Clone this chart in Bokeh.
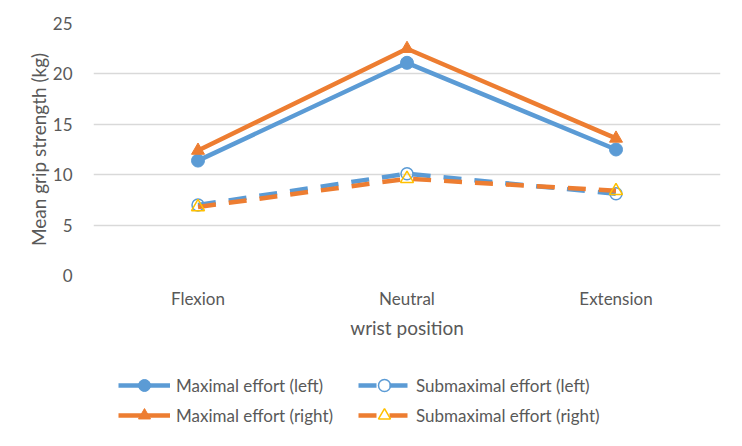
from bokeh.plotting import figure
from bokeh.layouts import column
from bokeh.models import Legend, LegendItem, FactorRange, Range1d, FixedTicker
from bokeh.embed import file_html
from bokeh.resources import INLINE

positions = ["Flexion", "Neutral", "Extension"]
y_ticks = [0, 5, 10, 15, 20, 25]
max_left = [11.4, 21.1, 12.5]
max_right = [12.4, 22.5, 13.6]
sub_left = [7.0, 10.1, 8.1]
sub_right = [6.8, 9.6, 8.4]
labels = ["Maximal effort (left)", "Submaximal effort (left)",
          "Maximal effort (right)", "Submaximal effort (right)"]

BLUE = "#5B9BD5"
ORANGE = "#ED7D31"
GOLD = "#FFC000"
TEXT = "#595959"
GRID = "#D9D9D9"
FONT = "Lato"

p = figure(width=726, height=350,
           x_range=FactorRange(*positions, range_padding=0),
           y_range=Range1d(0, 25),
           output_backend="svg", toolbar_location=None,
           min_border_left=93, min_border_right=6,
           min_border_top=23, min_border_bottom=75)
p.outline_line_color = None
p.xgrid.grid_line_color = None
p.ygrid.grid_line_color = GRID
p.ygrid.grid_line_width = 1.5
p.yaxis.ticker = FixedTicker(ticks=y_ticks)

for ax in (p.xaxis[0], p.yaxis[0]):
    ax.axis_line_color = None
    ax.major_tick_line_color = None
    ax.minor_tick_line_color = None
    ax.major_label_text_font = FONT
    ax.major_label_text_font_size = "17px"
    ax.major_label_text_color = TEXT
    ax.axis_label_text_font = FONT
    ax.axis_label_text_font_size = "19px"
    ax.axis_label_text_color = TEXT
    ax.axis_label_text_font_style = "normal"

p.xaxis.axis_label = "wrist position"
p.yaxis.axis_label = "Mean grip strength (kg)"
p.xaxis.major_label_standoff = 6
p.xaxis.axis_label_standoff = 4
p.yaxis.major_label_standoff = 15
p.yaxis.axis_label_standoff = 0

LW = 4.5
DASH = "18 13"

STYLES = [
    dict(line=dict(line_color=BLUE, line_width=LW),
         mark=dict(marker="circle", size=13, fill_color=BLUE, line_color=BLUE)),
    dict(line=dict(line_color=BLUE, line_width=LW, line_dash=DASH),
         mark=dict(marker="circle", size=12, fill_color="white", fill_alpha=0.0,
                   line_color=BLUE, line_width=1.5)),
    dict(line=dict(line_color=ORANGE, line_width=LW),
         mark=dict(marker="triangle", size=13, fill_color=ORANGE, line_color=ORANGE)),
    dict(line=dict(line_color=ORANGE, line_width=LW, line_dash=DASH),
         mark=dict(marker="triangle", size=13, fill_color="white", fill_alpha=0.0,
                   line_color=GOLD, line_width=1.5)),
]
series = [max_left, sub_left, max_right, sub_right]

for vals, st in zip(series, STYLES):
    p.line(positions, vals, **st["line"])
    p.scatter(positions, vals, **st["mark"])

# legend strip below the chart (series drawn out of view, only legend shows)
q = figure(width=726, height=80,
           x_range=FactorRange(*positions, range_padding=0),
           y_range=Range1d(-200, -100),
           x_axis_type=None, y_axis_type=None,
           output_backend="svg", toolbar_location=None,
           min_border_left=0, min_border_right=0, min_border_top=0, min_border_bottom=0)
q.grid.visible = False
q.outline_line_color = None

items = []
for lab, vals, st in zip(labels, series, STYLES):
    lr = q.line(positions, vals, **st["line"])
    mr = q.scatter(positions, vals, **st["mark"])
    items.append(LegendItem(label=lab, renderers=[lr, mr]))

legend = Legend(items=items, orientation="horizontal", ncols=2,
                location=(25, 0),
                glyph_width=52, glyph_height=30, label_height=20,
                label_standoff=6, spacing=0, padding=0, margin=0,
                label_width=182,
                label_text_font=FONT, label_text_font_size="17px",
                label_text_color=TEXT,
                border_line_color=None, background_fill_alpha=0)
q.add_layout(legend)

layout = column(p, q, spacing=0)
open("out.html", "w").write(file_html(layout, INLINE))
